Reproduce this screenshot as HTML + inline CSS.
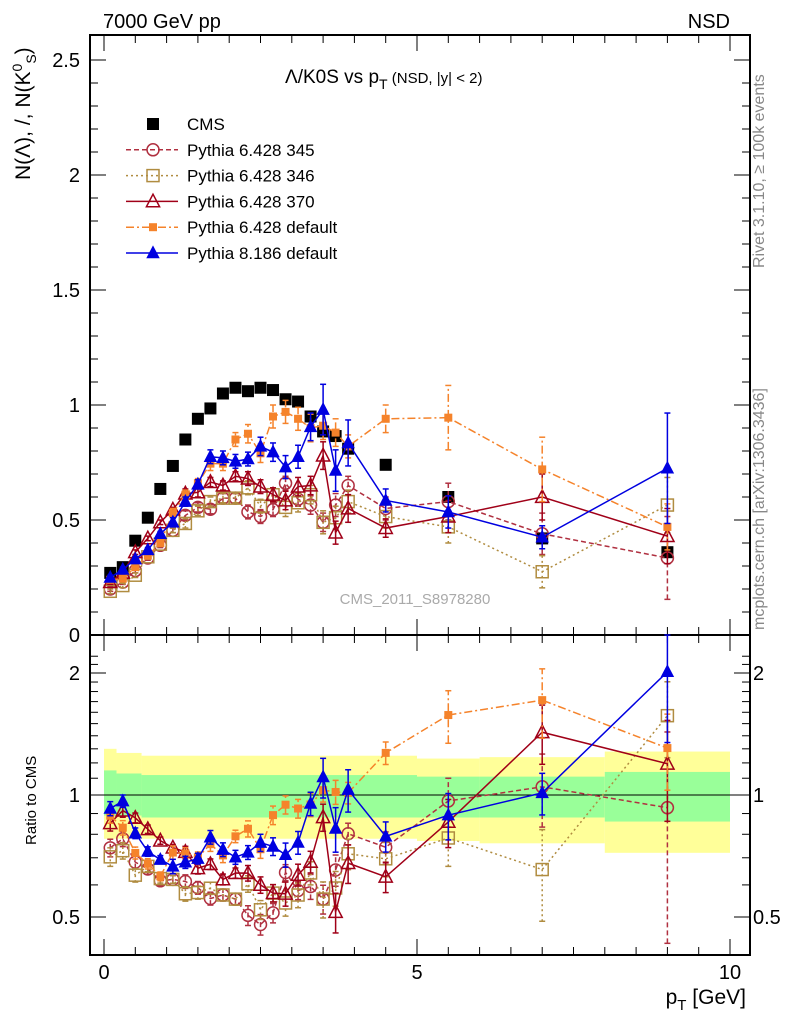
<!DOCTYPE html>
<html><head><meta charset="utf-8"><style>
body{margin:0;background:#fff;}
svg{font-family:"Liberation Sans",sans-serif;}
</style></head><body>
<svg id="c" width="786" height="1024" viewBox="0 0 786 1024"></svg>
<script>
const pt=[0.1,0.3,0.5,0.7,0.9,1.1,1.3,1.5,1.7,1.9,2.1,2.3,2.5,2.7,2.9,3.1,3.3,3.5,3.7,3.9,4.5,5.5,7.0,9.0];
const cms=[0.27,0.295,0.41,0.51,0.635,0.735,0.85,0.94,0.985,1.05,1.075,1.06,1.075,1.065,1.025,1.015,0.95,0.885,0.865,0.81,0.74,0.60,0.42,0.36];
const py345=[0.20,0.23,0.28,0.335,0.39,0.455,0.52,0.555,0.547,0.595,0.595,0.535,0.515,0.545,0.66,0.59,0.565,0.49,0.565,0.65,0.55,0.58,0.44,0.335];
const py346=[0.19,0.215,0.26,0.34,0.395,0.455,0.485,0.54,0.58,0.595,0.595,0.64,0.56,0.61,0.555,0.575,0.61,0.49,0.51,0.58,0.515,0.47,0.275,0.565];
const py370=[0.23,0.27,0.36,0.42,0.49,0.545,0.615,0.62,0.665,0.65,0.69,0.68,0.645,0.61,0.585,0.645,0.65,0.78,0.445,0.55,0.465,0.515,0.60,0.43];
const pydef=[0.24,0.245,0.295,0.345,0.40,0.53,0.61,0.66,0.745,0.745,0.85,0.875,0.79,0.95,0.97,0.94,0.90,0.91,0.88,0.82,0.94,0.945,0.72,0.47];
const py8=[0.25,0.285,0.33,0.37,0.44,0.49,0.58,0.655,0.775,0.77,0.755,0.765,0.82,0.795,0.73,0.775,0.905,0.98,0.715,0.835,0.585,0.535,0.425,0.725];
const err345=[0.01,0.01,0.01,0.01,0.01,0.01,0.02,0.02,0.02,0.02,0.02,0.03,0.03,0.03,0.03,0.03,0.04,0.04,0.05,0.04,0.05,0.08,0.09,0.18];
const err346=[0.01,0.01,0.01,0.01,0.01,0.01,0.02,0.02,0.02,0.02,0.02,0.03,0.03,0.03,0.04,0.04,0.04,0.05,0.05,0.05,0.05,0.07,0.07,0.12];
const err370=[0.01,0.01,0.01,0.01,0.01,0.01,0.02,0.02,0.02,0.02,0.02,0.03,0.03,0.03,0.04,0.04,0.04,0.06,0.05,0.06,0.04,0.07,0.10,0.12];
const errdef=[0.01,0.01,0.01,0.01,0.01,0.02,0.02,0.02,0.03,0.03,0.03,0.04,0.04,0.05,0.05,0.05,0.06,0.06,0.06,0.05,0.06,0.14,0.14,0.10];
const err8=[0.01,0.01,0.01,0.01,0.01,0.02,0.02,0.02,0.03,0.03,0.03,0.03,0.04,0.04,0.05,0.05,0.06,0.11,0.09,0.10,0.05,0.07,0.05,0.24];
const bandEdges=[0,0.2,0.6,5,6,8,10];
const yelHi=[1.30,1.27,1.25,1.23,1.24,1.28];
const yelLo=[0.78,0.78,0.78,0.77,0.76,0.72];
const grnHi=[1.15,1.13,1.12,1.11,1.11,1.14];
const grnLo=[0.89,0.89,0.88,0.88,0.88,0.86];
const yTicks=[0,0.5,1,1.5,2,2.5];
const xTicks=[0,5,10];

const S='http://www.w3.org/2000/svg',svg=document.getElementById('c');
function el(t,a,p){const e=document.createElementNS(S,t);for(const k in a)e.setAttribute(k,a[k]);(p||svg).appendChild(e);return e;}
const X=v=>104+v*62.6, Y=v=>635-v*230, R=v=>795-122*Math.log2(Math.max(v,0.35));
const L=90,Rr=750,T=35,M=635,B=955;

const bands=el('g',{});
for(let i=0;i<yelHi.length;i++){
 const x0=X(bandEdges[i]),x1=X(bandEdges[i+1]);
 el('rect',{x:x0,y:R(yelHi[i]),width:x1-x0,height:R(yelLo[i])-R(yelHi[i]),fill:'#ffff99'},bands);
 el('rect',{x:x0,y:R(grnHi[i]),width:x1-x0,height:R(grnLo[i])-R(grnHi[i]),fill:'#99ff99'},bands);
}
el('line',{x1:L,x2:Rr,y1:R(1),y2:R(1),stroke:'#000','stroke-width':1});

el('rect',{x:L,y:T,width:Rr-L,height:M-T,fill:'none',stroke:'#000','stroke-width':2});
el('rect',{x:L,y:M,width:Rr-L,height:B-M,fill:'none',stroke:'#000','stroke-width':2});
for(let v=0;v<=2.6;v+=0.1){const y=Y(v);if(y<T)continue;const big=Math.abs(v*2-Math.round(v*2))<1e-6;const l=big?16:8;
 el('line',{x1:L,x2:L+l,y1:y,y2:y,stroke:'#000'});el('line',{x1:Rr,x2:Rr-l,y1:y,y2:y,stroke:'#000'});}
yTicks.forEach(v=>{const t=el('text',{x:80,y:Y(v)+7,'text-anchor':'end','font-size':20});t.textContent=String(v);});
[0.5,0.6,0.7,0.8,0.9,1,1.1,1.2,1.3,1.4,1.5,1.6,1.7,1.8,1.9,2,2.1,2.2].forEach(v=>{const y=R(v);if(y<M)return;const big=(v==0.5||v==1||v==2);const l=big?16:8;
 el('line',{x1:L,x2:L+l,y1:y,y2:y,stroke:'#000'});el('line',{x1:Rr,x2:Rr-l,y1:y,y2:y,stroke:'#000'});});
[[0.5,'0.5'],[1,'1'],[2,'2']].forEach(([v,s])=>{let t=el('text',{x:80,y:R(v)+7,'text-anchor':'end','font-size':20});t.textContent=s;
 t=el('text',{x:753,y:R(v)+7,'font-size':20,fill:'#000'});t.textContent=s;});
for(let v=0;v<=10;v+=0.5){const x=X(v),big=v%5==0,l=big?16:8;
 [M,B].forEach(yb=>{el('line',{x1:x,x2:x,y1:yb,y2:yb-l,stroke:'#000'});el('line',{x1:x,x2:x,y1:(yb==M?T:M),y2:(yb==M?T:M)+l,stroke:'#000'});});}
xTicks.forEach(v=>{const t=el('text',{x:X(v),y:979,'text-anchor':'middle','font-size':20});t.textContent=String(v);});

function marker(type,x,y,col,g,s){s=s||6;
 if(type=='sq')el('rect',{x:x-s,y:y-s,width:2*s,height:2*s,fill:col},g);
 if(type=='osq')el('rect',{x:x-s,y:y-s,width:2*s,height:2*s,fill:'none',stroke:col,'stroke-width':1.5},g);
 if(type=='oc')el('circle',{cx:x,cy:y,r:s,fill:'none',stroke:col,'stroke-width':1.5},g);
 if(type=='tri'||type=='otri'){const h=s*1.2;el('polygon',{points:`${x},${y-h} ${x-s*1.1},${y+h*0.75} ${x+s*1.1},${y+h*0.75}`,fill:type=='tri'?col:'none',stroke:col,'stroke-width':1.5},g);}
}
function ebar(x,y1,y2,col,dash,g){el('line',{x1:x,x2:x,y1:y1,y2:y2,stroke:col,'stroke-width':1.5,'stroke-dasharray':dash},g);
 el('line',{x1:x-3,x2:x+3,y1:y1,y2:y1,stroke:col,'stroke-width':1.5},g);el('line',{x1:x-3,x2:x+3,y1:y2,y2:y2,stroke:col,'stroke-width':1.5},g);}
const series=[
 {name:'pythia-6428-345',d:py345,e:err345,col:'#b03040',dash:'5,3',m:'oc',s:6},
 {name:'pythia-6428-346',d:py346,e:err346,col:'#b08c40',dash:'2,3',m:'osq',s:6},
 {name:'pythia-6428-370',d:py370,e:err370,col:'#a00018',dash:'',m:'otri',s:6},
 {name:'pythia-6428-default',d:pydef,e:errdef,col:'#f5832b',dash:'8,3,2,3',m:'sq',s:4},
 {name:'pythia-8186-default',d:py8,e:err8,col:'#0000e0',dash:'',m:'tri',s:5}];
const cg=el('g',{});
pt.forEach((p,i)=>marker('sq',X(p),Y(cms[i]),'#000',cg,6));
series.forEach(s=>{
 const g=el('g',{});
 pt.forEach((p,i)=>ebar(X(p),Y(s.d[i]-s.e[i]),Y(s.d[i]+s.e[i]),s.col,s.dash,g));
 el('polyline',{points:pt.map((p,i)=>X(p)+','+Y(s.d[i])).join(' '),fill:'none',stroke:s.col,'stroke-width':1.5,'stroke-dasharray':s.dash},g);
 pt.forEach((p,i)=>marker(s.m,X(p),Y(s.d[i]),s.col,g,s.s));
 const rg=el('g',{});
 pt.forEach((p,i)=>ebar(X(p),R((s.d[i]-s.e[i])/cms[i]),Math.max(M,R((s.d[i]+s.e[i])/cms[i])),s.col,s.dash,rg));
 el('polyline',{points:pt.map((p,i)=>X(p)+','+R(s.d[i]/cms[i])).join(' '),fill:'none',stroke:s.col,'stroke-width':1.5,'stroke-dasharray':s.dash},rg);
 pt.forEach((p,i)=>marker(s.m,X(p),R(s.d[i]/cms[i]),s.col,rg,s.s));
});

const leg=el('g',{});
const items=[['CMS','#000','','sq',6],['Pythia 6.428 345','#b03040','5,3','oc',6],['Pythia 6.428 346','#b08c40','2,3','osq',6],['Pythia 6.428 370','#a00018','','otri',6],['Pythia 6.428 default','#f5832b','8,3,2,3','sq',4],['Pythia 8.186 default','#0000e0','','tri',5]];
items.forEach((it,i)=>{const y=124+i*25.8;
 if(i>0)el('line',{x1:126,x2:178,y1:y,y2:y,stroke:it[1],'stroke-width':1.5,'stroke-dasharray':it[2]},leg);
 marker(it[3],153,y,it[1],leg,it[4]);
 const t=el('text',{x:187,y:y+6,'font-size':17},leg);t.textContent=it[0];});

function txt(s,a,name){const t=el('text',a);t.innerHTML=s;return t;}
txt('7000 GeV pp',{x:103,y:28,'font-size':20},'energy-label');
txt('NSD',{x:730,y:28,'font-size':20,'text-anchor':'end'},'process-label');
txt('Λ/K0S vs p<tspan font-size="14" dy="6">T</tspan><tspan dy="-6" font-size="15"> (NSD, |y| &lt; 2)</tspan>',{x:285,y:83,'font-size':19},'plot-title');
txt('CMS_2011_S8978280',{x:415,y:604,'font-size':15,fill:'#aaa','text-anchor':'middle'},'analysis-id');
txt('Rivet 3.1.10, ≥ 100k events',{x:0,y:0,'font-size':16,fill:'#888',transform:'translate(764,268) rotate(-90)'},'rivet-label');
txt('mcplots.cern.ch [arXiv:1306.3436]',{x:0,y:0,'font-size':16,fill:'#888',transform:'translate(764,630) rotate(-90)'},'mcplots-label');
txt('N(Λ), /, N(K<tspan font-size="14" dy="-8">0</tspan><tspan font-size="14" dy="14">S</tspan><tspan dy="-6">)</tspan>',{x:0,y:0,'font-size':21,transform:'translate(30,180) rotate(-90)'},'y-axis-title');
txt('Ratio to CMS',{x:0,y:0,'font-size':15,transform:'translate(36,845) rotate(-90)'},'ratio-axis-title');
txt('p<tspan font-size="15" dy="6">T</tspan><tspan dy="-6"> [GeV]</tspan>',{x:746,y:1004,'font-size':21,'text-anchor':'end'},'x-axis-title');
</script>
</body></html>
